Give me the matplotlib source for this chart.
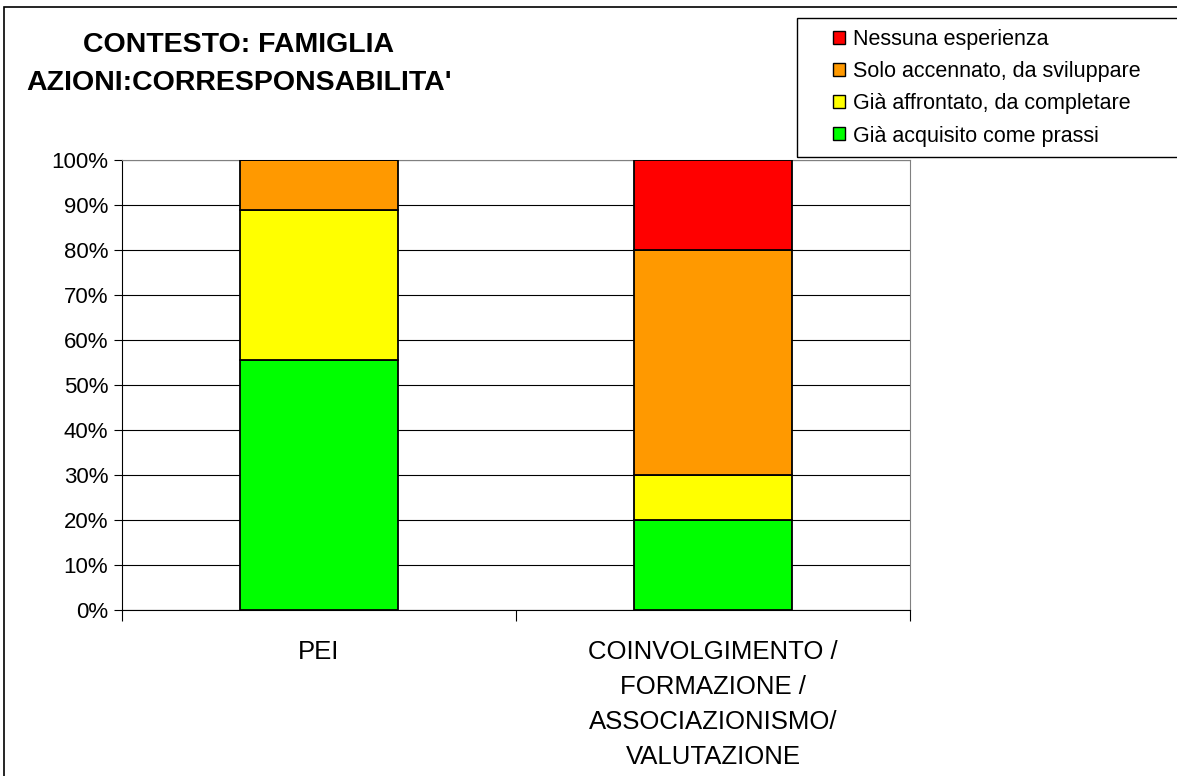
import matplotlib.pyplot as plt
from matplotlib.patches import Rectangle, Patch
from matplotlib.ticker import PercentFormatter

# dati
categorie = ['PEI', 'COINVOLGIMENTO /\nFORMAZIONE /\nASSOCIAZIONISMO/\nVALUTAZIONE']
acquisito = [55.6, 20.0]
affrontato = [33.3, 10.0]
accennato = [11.1, 50.0]
nessuna = [0.0, 20.0]

serie = ['Già acquisito come prassi', 'Già affrontato, da completare',
         'Solo accennato, da sviluppare', 'Nessuna esperienza']
colori = ['#00FF00', '#FFFF00', '#FF9900', '#FF0000']

plt.rcParams['font.family'] = ['Liberation Sans', 'DejaVu Sans']

W, H = 1177, 776
fig = plt.figure(figsize=(W / 100, H / 100), dpi=100)

# cornice esterna del grafico
fig.patches.append(Rectangle((4 / W, -0.1), 1.2, (H - 7) / H + 0.1,
                             transform=fig.transFigure, fill=False,
                             edgecolor='black', linewidth=1.2))
# cornice della legenda
fig.patches.append(Rectangle((797 / W, 1 - 157 / H), 1.0, 139 / H,
                             transform=fig.transFigure, fill=False,
                             edgecolor='black', linewidth=1.0))

ax = fig.add_axes([122 / W, 1 - 610 / H, 788 / W, 450 / H])
x = [0, 1]
base = [0, 0]
for valori, nome, col in zip([acquisito, affrontato, accennato, nessuna], serie, colori):
    ax.bar(x, valori, width=0.4, bottom=base, color=col, edgecolor='black',
           linewidth=1.3, label=nome, zorder=3)
    base = [b + v for b, v in zip(base, valori)]

ax.set_xlim(-0.5, 1.5)
ax.set_ylim(0, 100)
ax.set_yticks(range(0, 101, 10))
ax.yaxis.set_major_formatter(PercentFormatter(decimals=0))
ax.grid(axis='y', color='black', linewidth=0.8, zorder=0)
ax.set_xticks([-0.5, 0.5, 1.5])
ax.set_xticklabels([])
ax.tick_params(axis='x', length=8, width=0.8, direction='out')
ax.tick_params(axis='y', length=6, width=0.8, labelsize=16, pad=4)
for i, lab in enumerate(categorie):
    ax.text(x[i], -0.067, lab, transform=ax.get_xaxis_transform(),
            ha='center', va='top', fontsize=18.5, linespacing=1.57)

for s in ['top', 'right']:
    ax.spines[s].set_color('#808080')
ax.spines['left'].set_color('black')
ax.spines['bottom'].set_color('black')

fig.text(239 / W, 1 - 64 / H, "CONTESTO: FAMIGLIA\nAZIONI:CORRESPONSABILITA'",
         ha='center', va='center', fontsize=20.5, fontweight='bold', linespacing=1.63)

handles = [Patch(facecolor=c, edgecolor='black', linewidth=1) for c in colori[::-1]]
leg = fig.legend(handles, serie[::-1], loc='upper left',
                 bbox_to_anchor=(833 / W, 1 - 29 / H), fontsize=15.5,
                 frameon=False, handlelength=0.55, handleheight=0.55,
                 handletextpad=0.4, labelspacing=0.52, borderpad=0,
                 borderaxespad=0)

plt.savefig('out.png', dpi=100)
